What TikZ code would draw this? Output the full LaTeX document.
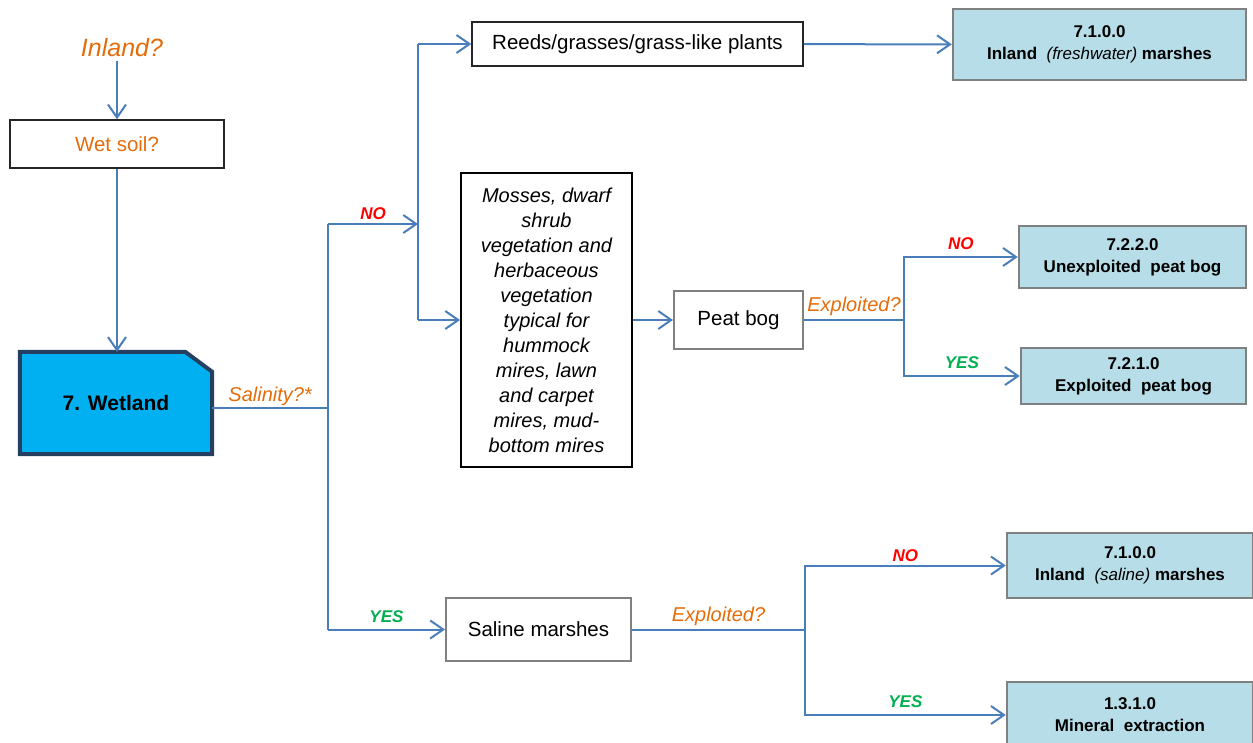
\documentclass[tikz,border=0pt]{standalone}
\usepackage{fontspec}
\setmainfont{Liberation Sans}
\usepackage{xcolor}
\usepackage{tikz}
\usetikzlibrary{arrows.meta,backgrounds}
\definecolor{flow}{HTML}{4A7EBB}
\definecolor{ask}{HTML}{E46C0A}
\definecolor{nocol}{HTML}{FF0000}
\definecolor{yescol}{HTML}{00B050}
\definecolor{wetfill}{HTML}{00B0F0}
\definecolor{wetline}{HTML}{243F60}
\definecolor{leaf}{HTML}{B7DDE8}

\begin{document}
\begin{tikzpicture}[x=1pt,y=-1pt,font=\fontsize{20.5}{25}\selectfont,
  link/.style={draw=flow,line width=2pt},
  arr/.style={link,-{Straight Barb[length=13pt,width=18pt]}},
  plainbox/.style={draw=black!85,line width=1.5pt,inner sep=0pt,align=center},
  greybox/.style={draw=black!50,line width=2pt,inner sep=0pt},
  leafbox/.style={draw=black!50,fill=leaf,line width=2.5pt,inner sep=0pt,
                  align=center,font=\fontsize{17}{22}\selectfont\bfseries},
  ask/.style={text=ask,font=\fontsize{20}{24}\selectfont\itshape},
  nolab/.style={text=nocol,font=\fontsize{17}{20}\selectfont\bfseries\itshape},
  yeslab/.style={text=yescol,font=\fontsize{17}{20}\selectfont\bfseries\itshape,yshift=3pt}]
  \useasboundingbox (0,0) rectangle (1253,742);

  % left column
  \node[text=ask,font=\fontsize{25}{30}\selectfont\itshape] (inland) at (122,48) {Inland?};
  \node[plainbox,text=ask,minimum width=214,minimum height=48] (wetsoil) at (117,144) {Wet soil?};
  \node[font=\fontsize{21}{25}\selectfont\bfseries,minimum width=192,minimum height=102,
        inner sep=0pt] (wetland) at (116,403) {7. Wetland};
  \begin{scope}[on background layer]
    \draw[draw=wetline,fill=wetfill,line width=4pt,line join=miter]
      (wetland.south west) |- ([xshift=-27pt]wetland.north east)
      -- ([yshift=-20pt]wetland.north east) |- cycle;
  \end{scope}

  % middle column
  \node[plainbox,minimum width=331,minimum height=44] (reeds) at (637.5,44) {Reeds/grasses/grass-like plants};
  \node[plainbox,line width=2pt,draw=black,minimum width=171,minimum height=294,
        font=\fontsize{20}{25}\selectfont\itshape] (mosses) at (546.5,320)
        {Mosses, dwarf\\shrub\\vegetation and\\herbaceous\\vegetation\\typical for\\hummock\\mires, lawn\\and carpet\\mires, mud-\\bottom mires};
  \node[greybox,minimum width=129,minimum height=58] (peat) at (738.5,320) {Peat bog};
  \node[greybox,minimum width=185,minimum height=63] (saline) at (538.5,629.5) {Saline marshes};

  % classes
  \node[leafbox,minimum width=293,minimum height=71] (fresh) at (1099.5,44.5)
        {7.1.0.0\\Inland~ \textmd{\textit{(freshwater)}} marshes};
  \node[leafbox,minimum width=227,minimum height=62] (unexp) at (1132.5,257)
        {7.2.2.0\\Unexploited~ peat bog};
  \node[leafbox,minimum width=225,minimum height=56] (exp) at (1133.5,376)
        {7.2.1.0\\Exploited~ peat bog};
  \node[leafbox,minimum width=246,minimum height=65] (salt) at (1130,565.5)
        {7.1.0.0\\Inland~ \textmd{\textit{(saline)}} marshes};
  \node[leafbox,minimum width=246,minimum height=66] (mineral) at (1130,715)
        {1.3.1.0\\Mineral~ extraction};

  % junctions
  \coordinate (jsal) at (328,408);
  \coordinate (jno) at (328,224);
  \coordinate (jyes) at (328,629.5);
  \coordinate (vno) at (418,224);
  \coordinate (vtop) at (418,44);
  \coordinate (vbot) at (418,320);
  \coordinate (jpeat) at (904,320);
  \coordinate (jsaline) at (805,629.5);

  % connectors
  \draw[arr] (wetsoil.north |- inland.south) -- (wetsoil.north);
  \draw[arr] (wetsoil.south) -- (wetsoil.south |- wetland.north);
  \draw[link] (wetland.east |- jsal) -- node[above,ask,inner sep=1pt]{Salinity?*} (jsal);
  \draw[link] (jno) -- (jyes);
  \draw[arr] (jno) -- node[above,nolab]{NO} (vno);
  \draw[link] (vtop) -- (vbot);
  \draw[arr] (vtop) -- (reeds);
  \draw[arr] (vbot) -- (mosses);
  \draw[arr] (reeds) -- (fresh);
  \draw[arr] (mosses) -- (peat);
  \draw[link] (peat.east) -- node[above,ask]{Exploited?} (jpeat);
  \draw[arr] (jpeat) |- node[pos=0.75,above,nolab,yshift=3pt]{NO} (unexp);
  \draw[arr] (jpeat) |- node[pos=0.75,above,yeslab]{YES} (exp);
  \draw[arr] (jyes) -- node[above,yeslab]{YES} (saline);
  \draw[link] (saline.east) -- node[above,ask]{Exploited?} (jsaline);
  \draw[arr] (jsaline) |- node[pos=0.75,above,nolab]{NO} (salt);
  \draw[arr] (jsaline) |- node[pos=0.75,above,yeslab]{YES} (mineral);
\end{tikzpicture}
\end{document}
